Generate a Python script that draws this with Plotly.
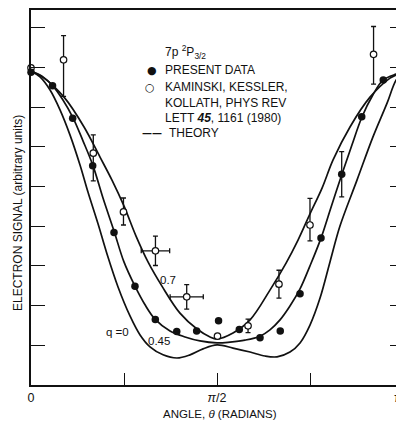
import numpy as np
import plotly.graph_objects as go

PI = np.pi

# ---------------- data (angle in radians, electron signal in arbitrary units) ----------------
theory_q0_angle = [0, 0.076, 0.161, 0.245, 0.329, 0.414, 0.481, 0.566, 0.642, 0.735, 0.836, 0.921,
                   1.005, 1.115, 1.233, 1.343, 1.453, 1.571, 1.706, 1.850, 1.976, 2.078, 2.187, 2.272,
                   2.356, 2.441, 2.525, 2.610, 2.753, 2.888, 3.007, 3.083, 3.142]
theory_q0_signal = [7.91, 7.76, 7.43, 6.93, 6.30, 5.54, 4.86, 4.06, 3.30, 2.47, 1.74, 1.26,
                    0.96, 0.76, 0.68, 0.76, 0.91, 1.01, 0.93, 0.83, 0.73, 0.71, 0.83, 1.06,
                    1.51, 2.19, 3.10, 4.01, 5.16, 6.25, 7.10, 7.68, 7.88]

theory_q045_angle = [0, 0.093, 0.186, 0.270, 0.355, 0.439, 0.524, 0.608, 0.701, 0.785, 0.878, 0.963,
                     1.047, 1.174, 1.301, 1.427, 1.571, 1.681, 1.807, 1.934, 2.018, 2.103, 2.187,
                     2.272, 2.356, 2.449, 2.534, 2.627, 2.711, 2.795, 2.888, 2.973, 3.083, 3.142]
theory_q045_signal = [7.91, 7.78, 7.53, 7.18, 6.73, 6.15, 5.52, 4.71, 3.88, 3.10, 2.49, 2.02,
                      1.66, 1.36, 1.21, 1.11, 1.06, 1.08, 1.13, 1.23, 1.39, 1.64, 1.99,
                      2.42, 3.00, 3.70, 4.48, 5.32, 6.05, 6.75, 7.31, 7.68, 7.83, 7.88]

theory_q07_angle = [0, 0.110, 0.279, 0.448, 0.583, 0.684, 0.785, 0.887, 0.988, 1.106, 1.258, 1.402,
                    1.512, 1.571, 1.706, 1.850, 2.018, 2.154, 2.255, 2.356, 2.458, 2.551, 2.694,
                    2.863, 3.032, 3.083, 3.142]
theory_q07_signal = [7.91, 7.73, 7.25, 6.50, 5.74, 5.16, 4.51, 3.75, 3.10, 2.49, 1.81, 1.41,
                     1.21, 1.16, 1.31, 1.64, 2.39, 3.07, 3.65, 4.31, 4.96, 5.67, 6.50,
                     7.25, 7.73, 7.81, 7.86]

present_angle = [0, 0.182, 0.352, 0.521, 0.701, 0.878, 1.050, 1.231, 1.399, 1.584, 1.759, 1.934,
                 2.105, 2.272, 2.449, 2.624, 2.793, 2.975]
present_signal = [7.88, 7.54, 6.72, 5.52, 3.84, 2.49, 1.65, 1.35, 1.36, 1.62, 1.40, 1.19,
                  1.36, 2.30, 3.70, 5.31, 6.76, 7.68]
present_err = [0, 0, 0, 0, 0, 0, 0, 0, 0, 0, 0, 0, 0, 0, 0, 0.57, 0, 0]

kaminski_angle = [0, 0.275, 0.526, 0.781, 1.051, 1.315, 1.575, 1.833, 2.094, 2.356, 2.893]
kaminski_signal = [7.99, 8.19, 5.84, 4.36, 3.38, 2.22, 1.23, 1.49, 2.54, 4.03, 8.33]
kaminski_err_plus = [0, 0.61, 0.46, 0.35, 0.37, 0.31, 0, 0.17, 0.35, 0.67, 0.70]
kaminski_err_minus = [0, 0.92, 0.70, 0.33, 0.37, 0.31, 0, 0.17, 0.35, 0.40, 0.75]
kaminski_angle_err = [0, 0, 0, 0, 0.12, 0.14, 0, 0, 0, 0, 0]

x_tick_values = [0, PI / 2]
x_tick_labels = ["0", "<i>π</i>/2"]
x_minor_tick_values = [PI / 4, 3 * PI / 4]
y_tick_values = [1, 2, 3, 4, 5, 6, 7, 8, 9]

curve_labels = ["q =0", "0.45", "0.7"]
curve_label_angle = [0.731, 1.077, 1.157]
curve_label_signal = [1.335, 1.121, 2.645]

# ---------------- layout geometry ----------------
W, H = 396, 423
ML, MR, MT, MB = 31, 0, 10, 38
PW, PH = W - ML - MR, H - MT - MB
X_MAX = PI * 365 / 372
Y_MAX = 375 / 39.7

INK = "#111111"
FONT = "Liberation Sans, Arial, sans-serif"


def px(x, y):
    """pixel position -> paper coordinates"""
    return (x - ML) / PW, (H - MB - y) / PH


fig = go.Figure()

for ang, sig, name in [(theory_q0_angle, theory_q0_signal, "q=0"),
                       (theory_q045_angle, theory_q045_signal, "q=0.45"),
                       (theory_q07_angle, theory_q07_signal, "q=0.7")]:
    fig.add_trace(go.Scatter(x=ang, y=sig, mode="lines", name="THEORY " + name,
                             line=dict(color=INK, width=1.7, shape="spline", smoothing=1.0),
                             showlegend=False, hoverinfo="skip"))

fig.add_trace(go.Scatter(
    x=kaminski_angle, y=kaminski_signal, mode="markers", name="KAMINSKI, KESSLER, KOLLATH",
    marker=dict(symbol="circle", size=6.5, color="white", line=dict(color=INK, width=1.2)),
    error_y=dict(type="data", symmetric=False, array=kaminski_err_plus,
                 arrayminus=kaminski_err_minus, color=INK, thickness=1.3, width=2.5),
    error_x=dict(type="data", array=kaminski_angle_err, color=INK, thickness=1.3, width=2.5),
    cliponaxis=False, showlegend=False))

fig.add_trace(go.Scatter(
    x=present_angle, y=present_signal, mode="markers", name="PRESENT DATA",
    marker=dict(symbol="circle", size=7.5, color=INK),
    error_y=dict(type="data", array=present_err, color=INK, thickness=1.3, width=2.5),
    cliponaxis=False, showlegend=False))

# invisible trace to carry the right-hand tick axis
fig.add_trace(go.Scatter(x=[], y=[], yaxis="y2", showlegend=False, hoverinfo="skip"))

annotations = []
for t, a, s in zip(curve_labels, curve_label_angle, curve_label_signal):
    annotations.append(dict(x=a, y=s, xref="x", yref="y", text=t, showarrow=False,
                            xanchor="center", yanchor="middle",
                            font=dict(size=11.5, color=INK, family=FONT)))

# legend block
legend_rows = [
    (163, 52, "7p <sup>2</sup>P<sub>3/2</sub>"),
    (163, 70, "PRESENT DATA"),
    (163, 87, "KAMINSKI, KESSLER,"),
    (163, 103, "KOLLATH, PHYS REV"),
    (163, 118, "LETT <i><b>45</b></i>, 1161 (1980)"),
    (167, 133, "THEORY"),
]
for x0, y0, t in legend_rows:
    px_, py_ = px(x0, y0)
    annotations.append(dict(x=px_, y=py_, xref="paper", yref="paper", text=t, showarrow=False,
                            xanchor="left", yanchor="middle",
                            font=dict(size=12, color=INK, family=FONT)))
for x0, y0, t, s in [(152, 70, "●", 11), (150, 87, "○", 11), (152, 133, "<b>——</b>", 10)]:
    px_, py_ = px(x0, y0)
    annotations.append(dict(x=px_, y=py_, xref="paper", yref="paper", text=t, showarrow=False,
                            xanchor="center", yanchor="middle",
                            font=dict(size=s, color=INK, family="DejaVu Sans")))

# axis titles and the clipped pi label
ax_, ay_ = px(220, 414)
annotations.append(dict(x=ax_, y=ay_, xref="paper", yref="paper", showarrow=False,
                        xanchor="center", yanchor="middle",
                        text="ANGLE, <i>θ</i> (RADIANS)", font=dict(size=11.5, color=INK, family=FONT)))
tx_, ty_ = px(18, 213)
annotations.append(dict(x=tx_, y=ty_, xref="paper", yref="paper", showarrow=False, textangle=-90,
                        xanchor="center", yanchor="middle",
                        text="ELECTRON SIGNAL (arbitrary units)",
                        font=dict(size=12, color=INK, family=FONT)))
pi_x, pi_y = px(396, 398)
annotations.append(dict(x=1, y=pi_y, xref="paper", yref="paper", showarrow=False, xanchor="left",
                        yanchor="middle", xshift=-4, text="π",
                        font=dict(size=12, color=INK, family=FONT)))

fig.update_layout(
    width=W, height=H, margin=dict(l=ML, r=MR, t=MT, b=MB, pad=0),
    paper_bgcolor="white", plot_bgcolor="white",
    font=dict(family=FONT, color=INK, size=12),
    showlegend=False,
    annotations=annotations,
    xaxis=dict(range=[0, X_MAX], tickvals=x_tick_values, ticktext=x_tick_labels,
               ticks="inside", ticklen=12, tickwidth=1.4, tickcolor=INK,
               minor=dict(tickvals=x_minor_tick_values, ticks="inside", ticklen=12,
                          tickwidth=1.4, tickcolor=INK, showgrid=False),
               showline=True, linewidth=1.6, linecolor=INK, mirror=True,
               showgrid=False, zeroline=False, tickfont=dict(size=12.5, color=INK),
               ticklabelstandoff=0, automargin=False, fixedrange=True),
    yaxis=dict(range=[0, Y_MAX], tickvals=y_tick_values, ticks="inside", ticklen=14,
               tickwidth=1.4, tickcolor=INK, showticklabels=False,
               showline=True, linewidth=1.6, linecolor=INK, mirror=False,
               showgrid=False, zeroline=False, automargin=False, fixedrange=True),
    yaxis2=dict(range=[0, Y_MAX], overlaying="y", side="right", tickvals=y_tick_values,
                ticks="inside", ticklen=6, tickwidth=1.4, tickcolor=INK,
                showticklabels=False, showline=False, showgrid=False, zeroline=False,
                automargin=False, fixedrange=True),
)

fig.write_html("out.html", config={"displayModeBar": False})
